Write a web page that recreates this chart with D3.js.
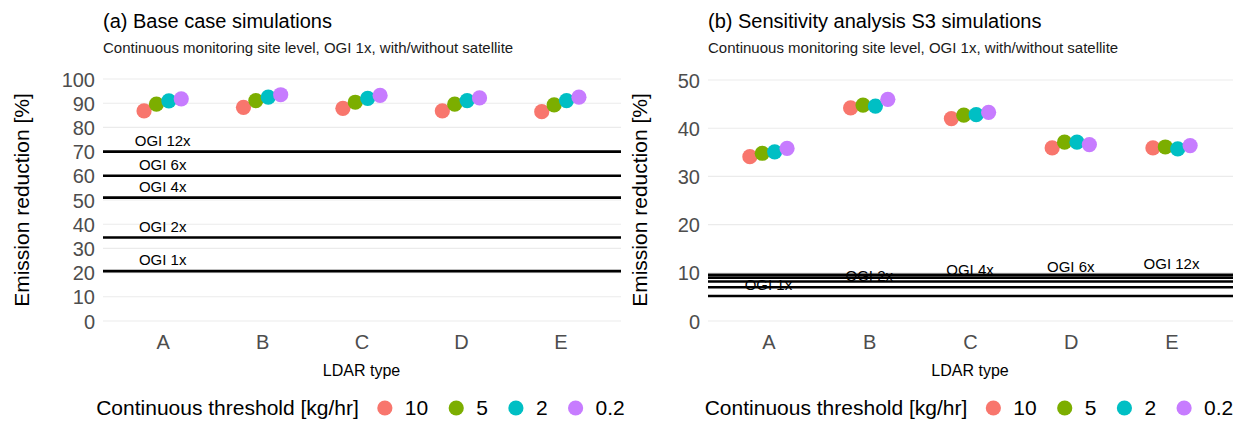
<!DOCTYPE html>
<html>
<head>
<meta charset="utf-8">
<script src="https://cdn.jsdelivr.net/npm/d3@7"></script>
<style>
  body { margin: 0; background: #fff; }
  svg { display: block; font-family: "Liberation Sans", Arial, sans-serif; }
</style>
</head>
<body>
<svg id="chart" width="1241" height="431"></svg>
<script>
// categories and legend groups
const ldarTypes = ["A", "B", "C", "D", "E"];
const thresholds = ["10", "5", "2", "0.2"];
const colors = ["#F8766D", "#7CAE00", "#00BFC4", "#C77CFF"];

// (a) base case, emission reduction [%] per LDAR type
const base_10  = [86.8, 88.3, 87.9, 86.8, 86.5];
const base_5   = [89.6, 91.1, 90.4, 89.6, 89.3];
const base_2   = [91.0, 92.5, 92.0, 91.1, 91.1];
const base_0_2 = [91.8, 93.5, 93.2, 92.2, 92.5];

// (b) sensitivity S3
const s3_10  = [34.1, 44.2, 42.0, 35.9, 35.9];
const s3_5   = [34.8, 44.8, 42.7, 37.1, 36.1];
const s3_2   = [35.1, 44.6, 42.8, 37.1, 35.7];
const s3_0_2 = [35.8, 46.0, 43.3, 36.6, 36.4];

// OGI reference lines
const ogiLabels = ["OGI 1x", "OGI 2x", "OGI 4x", "OGI 6x", "OGI 12x"];
const baseOgi = [20.6, 34.5, 51.0, 60.0, 70.0];
const baseOgiAt = ["A", "A", "A", "A", "A"];
const s3Ogi = [5.2, 7.0, 8.2, 9.0, 9.6];
const s3OgiAt = ["A", "B", "C", "D", "E"];

// tick labels
const baseTicks = [0, 10, 20, 30, 40, 50, 60, 70, 80, 90, 100];
const s3Ticks = [0, 10, 20, 30, 40, 50];

const svg = d3.select("#chart");

function drawPanel(opts) {
  const g = svg.append("g");

  const x = d3.scalePoint()
    .domain(ldarTypes)
    .range([opts.left, opts.right])
    .padding(0.6);

  const y = d3.scaleLinear()
    .domain(opts.yDomain)
    .range([321, opts.yTop]);

  const dodge = d3.scalePoint()
    .domain(thresholds)
    .range([-18.6, 18.6]);

  // titles
  g.append("text")
    .attr("x", opts.left).attr("y", 28)
    .attr("font-size", 20).attr("fill", "#000")
    .text(opts.title);
  g.append("text")
    .attr("x", opts.left).attr("y", 53)
    .attr("font-size", 15).attr("fill", "#1a1a1a")
    .text("Continuous monitoring site level, OGI 1x, with/without satellite");

  // y grid + axis labels
  const axis = d3.axisLeft(y).tickValues(opts.ticks).tickSize(0).tickPadding(0);
  const ax = g.append("g")
    .attr("transform", `translate(${opts.left - 8},0)`)
    .call(axis)
    .call(a => a.select(".domain").remove());
  ax.selectAll(".tick text")
    .attr("font-size", 20)
    .attr("fill", "#4d4d4d")
    .attr("font-family", "Liberation Sans, Arial, sans-serif")
    .attr("dy", "0.35em");

  g.append("g")
    .selectAll("line")
    .data(opts.ticks)
    .join("line")
      .attr("x1", opts.left).attr("x2", opts.right + 1)
      .attr("y1", d => y(d)).attr("y2", d => y(d))
      .attr("stroke", "#ebebeb").attr("stroke-width", 1.1);

  // x axis labels
  const xa = g.append("g")
    .attr("transform", "translate(0,335)")
    .call(d3.axisBottom(x).tickSize(0).tickPadding(0))
    .call(a => a.select(".domain").remove());
  xa.selectAll(".tick text")
    .attr("font-size", 20)
    .attr("fill", "#4d4d4d")
    .attr("font-family", "Liberation Sans, Arial, sans-serif")
    .attr("dy", "0.71em");

  g.append("text")
    .attr("x", (opts.left + opts.right) / 2).attr("y", 376)
    .attr("text-anchor", "middle")
    .attr("font-size", 16).attr("fill", "#000")
    .text("LDAR type");

  g.append("text")
    .attr("transform", `translate(${opts.yTitleX},${(321 + 79) / 2}) rotate(-90)`)
    .attr("text-anchor", "middle")
    .attr("font-size", 21).attr("fill", "#000")
    .text("Emission reduction [%]");

  // OGI lines + labels
  const ogi = ogiLabels.map((l, i) => ({ label: l, value: opts.ogi[i], at: opts.ogiAt[i] }));
  g.append("g")
    .selectAll("line")
    .data(ogi)
    .join("line")
      .attr("x1", opts.left).attr("x2", opts.right + 1)
      .attr("y1", d => y(d.value)).attr("y2", d => y(d.value))
      .attr("stroke", "#000").attr("stroke-width", 2.6);
  g.append("g")
    .selectAll("text")
    .data(ogi)
    .join("text")
      .attr("x", d => x(d.at))
      .attr("y", d => y(d.value) - 6)
      .attr("text-anchor", "middle")
      .attr("font-size", 15).attr("fill", "#000")
      .text(d => d.label);

  // points
  const pts = [];
  opts.series.forEach((vals, si) => {
    vals.forEach((v, ci) => pts.push({ t: thresholds[si], c: ldarTypes[ci], v: v, col: colors[si] }));
  });
  g.append("g")
    .selectAll("circle")
    .data(pts)
    .join("circle")
      .attr("cx", d => x(d.c) + dodge(d.t))
      .attr("cy", d => y(d.v))
      .attr("r", 7.6)
      .attr("fill", d => d.col);

  // legend
  const lg = g.append("g").attr("transform", "translate(0,408)");
  const lt = lg.append("text")
    .attr("font-size", 21).attr("fill", "#000")
    .attr("dy", "0.35em")
    .text("Continuous threshold [kg/hr]");
  let cx = lt.node().getComputedTextLength();
  thresholds.forEach((t, i) => {
    cx += 26;
    lg.append("circle").attr("cx", cx).attr("cy", 0).attr("r", 7.6).attr("fill", colors[i]);
    cx += 20;
    const tx = lg.append("text")
      .attr("x", cx).attr("font-size", 21).attr("fill", "#000")
      .attr("dy", "0.35em").text(t);
    cx += tx.node().getComputedTextLength() + 2;
  });
  const centre = (opts.left + opts.right) / 2;
  lg.attr("transform", `translate(${centre - cx / 2},408)`);
}

drawPanel({
  title: "(a) Base case simulations",
  left: 103, right: 620, yTop: 79, yDomain: [0, 100],
  ticks: baseTicks, yTitleX: 29,
  ogi: baseOgi, ogiAt: baseOgiAt,
  series: [base_10, base_5, base_2, base_0_2]
});

drawPanel({
  title: "(b) Sensitivity analysis S3 simulations",
  left: 708, right: 1232, yTop: 80, yDomain: [0, 50],
  ticks: s3Ticks, yTitleX: 647,
  ogi: s3Ogi, ogiAt: s3OgiAt,
  series: [s3_10, s3_5, s3_2, s3_0_2]
});
</script>
</body>
</html>
